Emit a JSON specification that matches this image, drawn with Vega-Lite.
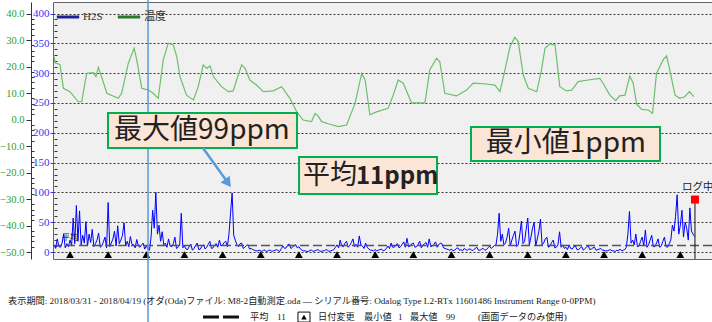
{
"$schema":"https://vega.github.io/schema/vega-lite/v6.json",
"autosize":{"type":"none"},
"width":659,"height":257,
"padding":{"left":53,"top":2,"right":0,"bottom":63},
"background":"white",
"config":{"view":{"fill":"#f0f0f0","stroke":"#666","strokeWidth":1},"font":"Liberation Serif"},
"datasets":{
"temp":[
{"t":"2018-03-31T14:00","c":23.7},{"t":"2018-03-31T14:40","c":21.3},{"t":"2018-03-31T17:40","c":20.8},{"t":"2018-03-31T19:50","c":11.8},{"t":"2018-04-01T00:00","c":10.5},{"t":"2018-04-01T05:10","c":6.7},{"t":"2018-04-01T07:20","c":6.7},{"t":"2018-04-01T10:30","c":17.4},{"t":"2018-04-01T14:40","c":17.7},{"t":"2018-04-01T16:20","c":16.2},{"t":"2018-04-01T17:50","c":19.7},{"t":"2018-04-01T19:50","c":16.2},{"t":"2018-04-01T23:10","c":9.9},{"t":"2018-04-02T06:20","c":8.0},{"t":"2018-04-02T08:30","c":9.9},{"t":"2018-04-02T12:40","c":21.2},{"t":"2018-04-02T16:20","c":26.9},{"t":"2018-04-02T18:00","c":22.5},{"t":"2018-04-02T21:10","c":11.8},{"t":"2018-04-03T01:20","c":11.1},{"t":"2018-04-03T04:20","c":9.9},{"t":"2018-04-03T07:30","c":8.0},{"t":"2018-04-03T10:40","c":22.5},{"t":"2018-04-03T13:50","c":28.8},{"t":"2018-04-03T17:00","c":28.1},{"t":"2018-04-03T19:10","c":23.7},{"t":"2018-04-03T21:10","c":16.2},{"t":"2018-04-04T01:20","c":9.2},{"t":"2018-04-04T05:40","c":7.4},{"t":"2018-04-04T08:40","c":12.4},{"t":"2018-04-04T11:50","c":20.6},{"t":"2018-04-04T14:00","c":19.3},{"t":"2018-04-04T16:10","c":20.2},{"t":"2018-04-04T18:10","c":16.2},{"t":"2018-04-04T23:20","c":12.4},{"t":"2018-04-05T03:40","c":10.5},{"t":"2018-04-05T06:40","c":10.8},{"t":"2018-04-05T08:50","c":14.9},{"t":"2018-04-05T12:00","c":20.6},{"t":"2018-04-05T14:10","c":19.3},{"t":"2018-04-05T17:10","c":14.9},{"t":"2018-04-05T21:20","c":13.0},{"t":"2018-04-06T01:40","c":10.5},{"t":"2018-04-06T07:50","c":10.8},{"t":"2018-04-06T13:10","c":12.4},{"t":"2018-04-06T18:20","c":8.0},{"t":"2018-04-06T22:40","c":2.9},{"t":"2018-04-07T02:40","c":-0.2},{"t":"2018-04-07T08:00","c":-0.8},{"t":"2018-04-07T10:10","c":2.3},{"t":"2018-04-07T12:10","c":1.3},{"t":"2018-04-07T14:20","c":-0.8},{"t":"2018-04-07T19:30","c":-1.8},{"t":"2018-04-08T00:50","c":-2.7},{"t":"2018-04-08T06:00","c":-2.1},{"t":"2018-04-08T11:20","c":6.1},{"t":"2018-04-08T15:30","c":17.4},{"t":"2018-04-08T17:40","c":14.9},{"t":"2018-04-08T20:40","c":1.8},{"t":"2018-04-09T00:50","c":2.9},{"t":"2018-04-09T08:10","c":4.2},{"t":"2018-04-09T11:20","c":9.2},{"t":"2018-04-09T14:30","c":14.9},{"t":"2018-04-09T17:40","c":13.7},{"t":"2018-04-09T22:50","c":6.3},{"t":"2018-04-10T07:20","c":6.3},{"t":"2018-04-10T10:20","c":18.7},{"t":"2018-04-10T14:40","c":23.1},{"t":"2018-04-10T16:40","c":21.8},{"t":"2018-04-10T19:50","c":9.9},{"t":"2018-04-11T03:10","c":8.9},{"t":"2018-04-11T09:30","c":11.1},{"t":"2018-04-11T13:40","c":13.7},{"t":"2018-04-11T22:10","c":13.4},{"t":"2018-04-12T03:20","c":13.0},{"t":"2018-04-12T06:30","c":10.5},{"t":"2018-04-12T09:40","c":18.7},{"t":"2018-04-12T12:50","c":27.5},{"t":"2018-04-12T15:50","c":31.0},{"t":"2018-04-12T18:00","c":29.4},{"t":"2018-04-12T21:10","c":16.8},{"t":"2018-04-13T00:20","c":11.8},{"t":"2018-04-13T05:40","c":10.5},{"t":"2018-04-13T08:40","c":18.7},{"t":"2018-04-13T10:50","c":26.9},{"t":"2018-04-13T13:50","c":28.5},{"t":"2018-04-13T17:10","c":28.1},{"t":"2018-04-13T20:10","c":12.4},{"t":"2018-04-14T00:20","c":10.8},{"t":"2018-04-14T03:40","c":11.1},{"t":"2018-04-14T07:40","c":14.3},{"t":"2018-04-14T14:00","c":14.9},{"t":"2018-04-14T21:20","c":15.5},{"t":"2018-04-14T23:20","c":13.7},{"t":"2018-04-15T03:40","c":9.2},{"t":"2018-04-15T07:20","c":7.1},{"t":"2018-04-15T09:50","c":8.9},{"t":"2018-04-15T13:10","c":9.2},{"t":"2018-04-15T16:10","c":16.4},{"t":"2018-04-15T18:20","c":13.7},{"t":"2018-04-15T20:30","c":5.8},{"t":"2018-04-15T23:40","c":3.8},{"t":"2018-04-16T03:50","c":3.6},{"t":"2018-04-16T06:30","c":2.3},{"t":"2018-04-16T09:00","c":17.4},{"t":"2018-04-16T13:10","c":22.5},{"t":"2018-04-16T15:20","c":24.0},{"t":"2018-04-16T17:20","c":18.7},{"t":"2018-04-16T20:40","c":9.2},{"t":"2018-04-16T23:40","c":8.0},{"t":"2018-04-17T02:50","c":8.6},{"t":"2018-04-17T05:40","c":10.5},{"t":"2018-04-17T08:30","c":8.6}
],
"h2s":[
{"t":"2018-03-31T14:00","v":12},{"t":"2018-03-31T15:00","v":6},{"t":"2018-03-31T16:00","v":22},{"t":"2018-03-31T17:00","v":9},{"t":"2018-03-31T18:00","v":8},{"t":"2018-03-31T19:00","v":15},{"t":"2018-03-31T20:00","v":30},{"t":"2018-03-31T21:00","v":7},{"t":"2018-03-31T22:00","v":14},{"t":"2018-03-31T23:00","v":9},
{"t":"2018-04-01T00:00","v":20},{"t":"2018-04-01T01:00","v":11},{"t":"2018-04-01T02:00","v":57},{"t":"2018-04-01T03:00","v":14},{"t":"2018-04-01T04:00","v":78},{"t":"2018-04-01T05:00","v":18},{"t":"2018-04-01T06:00","v":69},{"t":"2018-04-01T07:00","v":12},{"t":"2018-04-01T08:00","v":28},{"t":"2018-04-01T09:00","v":15},{"t":"2018-04-01T10:00","v":51},{"t":"2018-04-01T11:00","v":10},{"t":"2018-04-01T12:00","v":30},{"t":"2018-04-01T13:00","v":16},{"t":"2018-04-01T14:00","v":38},{"t":"2018-04-01T15:00","v":9},{"t":"2018-04-01T16:00","v":14},{"t":"2018-04-01T17:00","v":20},{"t":"2018-04-01T18:00","v":32},{"t":"2018-04-01T19:00","v":8},{"t":"2018-04-01T20:00","v":10},{"t":"2018-04-01T21:00","v":17},{"t":"2018-04-01T22:00","v":25},{"t":"2018-04-01T23:00","v":7},
{"t":"2018-04-02T00:00","v":83},{"t":"2018-04-02T01:00","v":9},{"t":"2018-04-02T02:00","v":15},{"t":"2018-04-02T03:00","v":22},{"t":"2018-04-02T04:00","v":35},{"t":"2018-04-02T05:00","v":10},{"t":"2018-04-02T06:00","v":44},{"t":"2018-04-02T07:00","v":14},{"t":"2018-04-02T08:00","v":20},{"t":"2018-04-02T09:00","v":28},{"t":"2018-04-02T10:00","v":49},{"t":"2018-04-02T11:00","v":11},{"t":"2018-04-02T12:00","v":18},{"t":"2018-04-02T13:00","v":9},{"t":"2018-04-02T14:00","v":26},{"t":"2018-04-02T15:00","v":13},{"t":"2018-04-02T16:00","v":12},{"t":"2018-04-02T17:00","v":7},{"t":"2018-04-02T18:00","v":21},{"t":"2018-04-02T19:00","v":10},{"t":"2018-04-02T20:00","v":8},{"t":"2018-04-02T21:00","v":12},{"t":"2018-04-02T22:00","v":15},{"t":"2018-04-02T23:00","v":5},
{"t":"2018-04-03T00:00","v":10},{"t":"2018-04-03T01:00","v":6},{"t":"2018-04-03T02:00","v":3},{"t":"2018-04-03T03:00","v":25},{"t":"2018-04-03T04:00","v":70},{"t":"2018-04-03T05:00","v":40},{"t":"2018-04-03T06:00","v":100},{"t":"2018-04-03T07:00","v":30},{"t":"2018-04-03T08:00","v":45},{"t":"2018-04-03T09:00","v":18},{"t":"2018-04-03T10:00","v":34},{"t":"2018-04-03T11:00","v":12},{"t":"2018-04-03T12:00","v":15},{"t":"2018-04-03T13:00","v":8},{"t":"2018-04-03T14:00","v":22},{"t":"2018-04-03T15:00","v":10},{"t":"2018-04-03T16:00","v":9},{"t":"2018-04-03T17:00","v":14},{"t":"2018-04-03T18:00","v":25},{"t":"2018-04-03T19:00","v":6},{"t":"2018-04-03T20:00","v":8},{"t":"2018-04-03T21:00","v":11},{"t":"2018-04-03T22:00","v":65},{"t":"2018-04-03T23:00","v":7},
{"t":"2018-04-04T00:00","v":10},{"t":"2018-04-04T01:00","v":5},{"t":"2018-04-04T02:00","v":4},{"t":"2018-04-04T03:00","v":9},{"t":"2018-04-04T04:00","v":13},{"t":"2018-04-04T05:00","v":3},{"t":"2018-04-04T06:00","v":6},{"t":"2018-04-04T07:00","v":11},{"t":"2018-04-04T08:00","v":15},{"t":"2018-04-04T09:00","v":4},{"t":"2018-04-04T10:00","v":5},{"t":"2018-04-04T11:00","v":10},{"t":"2018-04-04T12:00","v":12},{"t":"2018-04-04T13:00","v":5},{"t":"2018-04-04T14:00","v":8},{"t":"2018-04-04T15:00","v":13},{"t":"2018-04-04T16:00","v":18},{"t":"2018-04-04T17:00","v":6},{"t":"2018-04-04T18:00","v":7},{"t":"2018-04-04T19:00","v":12},{"t":"2018-04-04T20:00","v":14},{"t":"2018-04-04T21:00","v":8},{"t":"2018-04-04T22:00","v":20},{"t":"2018-04-04T23:00","v":10},
{"t":"2018-04-05T00:00","v":12},{"t":"2018-04-05T01:00","v":16},{"t":"2018-04-05T02:00","v":18},{"t":"2018-04-05T03:00","v":9},{"t":"2018-04-05T04:00","v":30},{"t":"2018-04-05T05:00","v":65},{"t":"2018-04-05T06:00","v":99},{"t":"2018-04-05T07:00","v":28},{"t":"2018-04-05T08:00","v":20},{"t":"2018-04-05T09:00","v":12},{"t":"2018-04-05T10:00","v":9},{"t":"2018-04-05T11:00","v":14},{"t":"2018-04-05T12:00","v":15},{"t":"2018-04-05T13:00","v":6},{"t":"2018-04-05T14:00","v":8},{"t":"2018-04-05T15:00","v":11},{"t":"2018-04-05T16:00","v":12},{"t":"2018-04-05T17:00","v":5},{"t":"2018-04-05T18:00","v":6},{"t":"2018-04-05T19:00","v":4},{"t":"2018-04-05T20:00","v":3},{"t":"2018-04-05T21:00","v":2},{"t":"2018-04-05T22:00","v":2},{"t":"2018-04-05T23:00","v":3},
{"t":"2018-04-06T00:00","v":2},{"t":"2018-04-06T01:00","v":1},{"t":"2018-04-06T02:00","v":4},{"t":"2018-04-06T03:00","v":2},{"t":"2018-04-06T04:00","v":1},{"t":"2018-04-06T05:00","v":3},{"t":"2018-04-06T06:00","v":3},{"t":"2018-04-06T07:00","v":1},{"t":"2018-04-06T08:00","v":2},{"t":"2018-04-06T09:00","v":3},{"t":"2018-04-06T10:00","v":4},{"t":"2018-04-06T11:00","v":2},{"t":"2018-04-06T12:00","v":1},{"t":"2018-04-06T13:00","v":6},{"t":"2018-04-06T14:00","v":10},{"t":"2018-04-06T15:00","v":6},{"t":"2018-04-06T16:00","v":7},{"t":"2018-04-06T17:00","v":12},{"t":"2018-04-06T18:00","v":13},{"t":"2018-04-06T19:00","v":6},{"t":"2018-04-06T20:00","v":8},{"t":"2018-04-06T21:00","v":11},{"t":"2018-04-06T22:00","v":12},{"t":"2018-04-06T23:00","v":7},
{"t":"2018-04-07T00:00","v":9},{"t":"2018-04-07T01:00","v":5},{"t":"2018-04-07T02:00","v":3},{"t":"2018-04-07T03:00","v":2},{"t":"2018-04-07T04:00","v":2},{"t":"2018-04-07T05:00","v":1},{"t":"2018-04-07T06:00","v":1},{"t":"2018-04-07T07:00","v":3},{"t":"2018-04-07T08:00","v":3},{"t":"2018-04-07T09:00","v":1},{"t":"2018-04-07T10:00","v":2},{"t":"2018-04-07T11:00","v":3},{"t":"2018-04-07T12:00","v":4},{"t":"2018-04-07T13:00","v":2},{"t":"2018-04-07T14:00","v":1},{"t":"2018-04-07T15:00","v":2},{"t":"2018-04-07T16:00","v":2},{"t":"2018-04-07T17:00","v":4},{"t":"2018-04-07T18:00","v":3},{"t":"2018-04-07T19:00","v":1},{"t":"2018-04-07T20:00","v":2},{"t":"2018-04-07T21:00","v":3},{"t":"2018-04-07T22:00","v":4},{"t":"2018-04-07T23:00","v":8},
{"t":"2018-04-08T00:00","v":12},{"t":"2018-04-08T01:00","v":7},{"t":"2018-04-08T02:00","v":20},{"t":"2018-04-08T03:00","v":10},{"t":"2018-04-08T04:00","v":9},{"t":"2018-04-08T05:00","v":15},{"t":"2018-04-08T06:00","v":18},{"t":"2018-04-08T07:00","v":8},{"t":"2018-04-08T08:00","v":11},{"t":"2018-04-08T09:00","v":16},{"t":"2018-04-08T10:00","v":22},{"t":"2018-04-08T11:00","v":9},{"t":"2018-04-08T12:00","v":13},{"t":"2018-04-08T13:00","v":8},{"t":"2018-04-08T14:00","v":27},{"t":"2018-04-08T15:00","v":12},{"t":"2018-04-08T16:00","v":10},{"t":"2018-04-08T17:00","v":6},{"t":"2018-04-08T18:00","v":15},{"t":"2018-04-08T19:00","v":8},{"t":"2018-04-08T20:00","v":5},{"t":"2018-04-08T21:00","v":3},{"t":"2018-04-08T22:00","v":3},{"t":"2018-04-08T23:00","v":2},
{"t":"2018-04-09T00:00","v":4},{"t":"2018-04-09T01:00","v":2},{"t":"2018-04-09T02:00","v":3},{"t":"2018-04-09T03:00","v":4},{"t":"2018-04-09T04:00","v":5},{"t":"2018-04-09T05:00","v":2},{"t":"2018-04-09T06:00","v":3},{"t":"2018-04-09T07:00","v":6},{"t":"2018-04-09T08:00","v":10},{"t":"2018-04-09T09:00","v":6},{"t":"2018-04-09T10:00","v":15},{"t":"2018-04-09T11:00","v":8},{"t":"2018-04-09T12:00","v":8},{"t":"2018-04-09T13:00","v":12},{"t":"2018-04-09T14:00","v":14},{"t":"2018-04-09T15:00","v":7},{"t":"2018-04-09T16:00","v":9},{"t":"2018-04-09T17:00","v":13},{"t":"2018-04-09T18:00","v":17},{"t":"2018-04-09T19:00","v":8},{"t":"2018-04-09T20:00","v":23},{"t":"2018-04-09T21:00","v":9},{"t":"2018-04-09T22:00","v":10},{"t":"2018-04-09T23:00","v":14},
{"t":"2018-04-10T00:00","v":15},{"t":"2018-04-10T01:00","v":8},{"t":"2018-04-10T02:00","v":9},{"t":"2018-04-10T03:00","v":13},{"t":"2018-04-10T04:00","v":18},{"t":"2018-04-10T05:00","v":7},{"t":"2018-04-10T06:00","v":11},{"t":"2018-04-10T07:00","v":14},{"t":"2018-04-10T08:00","v":16},{"t":"2018-04-10T09:00","v":8},{"t":"2018-04-10T10:00","v":22},{"t":"2018-04-10T11:00","v":9},{"t":"2018-04-10T12:00","v":10},{"t":"2018-04-10T13:00","v":13},{"t":"2018-04-10T14:00","v":17},{"t":"2018-04-10T15:00","v":8},{"t":"2018-04-10T16:00","v":12},{"t":"2018-04-10T17:00","v":15},{"t":"2018-04-10T18:00","v":14},{"t":"2018-04-10T19:00","v":7},{"t":"2018-04-10T20:00","v":6},{"t":"2018-04-10T21:00","v":5},{"t":"2018-04-10T22:00","v":4},{"t":"2018-04-10T23:00","v":3},
{"t":"2018-04-11T00:00","v":5},{"t":"2018-04-11T01:00","v":2},{"t":"2018-04-11T02:00","v":3},{"t":"2018-04-11T03:00","v":6},{"t":"2018-04-11T04:00","v":7},{"t":"2018-04-11T05:00","v":3},{"t":"2018-04-11T06:00","v":4},{"t":"2018-04-11T07:00","v":2},{"t":"2018-04-11T08:00","v":6},{"t":"2018-04-11T09:00","v":4},{"t":"2018-04-11T10:00","v":3},{"t":"2018-04-11T11:00","v":5},{"t":"2018-04-11T12:00","v":5},{"t":"2018-04-11T13:00","v":2},{"t":"2018-04-11T14:00","v":4},{"t":"2018-04-11T15:00","v":6},{"t":"2018-04-11T16:00","v":8},{"t":"2018-04-11T17:00","v":3},{"t":"2018-04-11T18:00","v":3},{"t":"2018-04-11T19:00","v":5},{"t":"2018-04-11T20:00","v":6},{"t":"2018-04-11T21:00","v":3},{"t":"2018-04-11T22:00","v":4},{"t":"2018-04-11T23:00","v":7},
{"t":"2018-04-12T00:00","v":10},{"t":"2018-04-12T01:00","v":6},{"t":"2018-04-12T02:00","v":8},{"t":"2018-04-12T03:00","v":11},{"t":"2018-04-12T04:00","v":12},{"t":"2018-04-12T05:00","v":30},{"t":"2018-04-12T06:00","v":65},{"t":"2018-04-12T07:00","v":18},{"t":"2018-04-12T08:00","v":30},{"t":"2018-04-12T09:00","v":12},{"t":"2018-04-12T10:00","v":15},{"t":"2018-04-12T11:00","v":25},{"t":"2018-04-12T12:00","v":40},{"t":"2018-04-12T13:00","v":10},{"t":"2018-04-12T14:00","v":20},{"t":"2018-04-12T15:00","v":28},{"t":"2018-04-12T16:00","v":35},{"t":"2018-04-12T17:00","v":9},{"t":"2018-04-12T18:00","v":12},{"t":"2018-04-12T19:00","v":30},{"t":"2018-04-12T20:00","v":52},{"t":"2018-04-12T21:00","v":14},{"t":"2018-04-12T22:00","v":18},{"t":"2018-04-12T23:00","v":38},
{"t":"2018-04-13T00:00","v":57},{"t":"2018-04-13T01:00","v":12},{"t":"2018-04-13T02:00","v":25},{"t":"2018-04-13T03:00","v":40},{"t":"2018-04-13T04:00","v":50},{"t":"2018-04-13T05:00","v":10},{"t":"2018-04-13T06:00","v":22},{"t":"2018-04-13T07:00","v":35},{"t":"2018-04-13T08:00","v":55},{"t":"2018-04-13T09:00","v":12},{"t":"2018-04-13T10:00","v":15},{"t":"2018-04-13T11:00","v":22},{"t":"2018-04-13T12:00","v":25},{"t":"2018-04-13T13:00","v":8},{"t":"2018-04-13T14:00","v":10},{"t":"2018-04-13T15:00","v":16},{"t":"2018-04-13T16:00","v":20},{"t":"2018-04-13T17:00","v":7},{"t":"2018-04-13T18:00","v":8},{"t":"2018-04-13T19:00","v":12},{"t":"2018-04-13T20:00","v":34},{"t":"2018-04-13T21:00","v":8},{"t":"2018-04-13T22:00","v":12},{"t":"2018-04-13T23:00","v":6},
{"t":"2018-04-14T00:00","v":8},{"t":"2018-04-14T01:00","v":4},{"t":"2018-04-14T02:00","v":12},{"t":"2018-04-14T03:00","v":6},{"t":"2018-04-14T04:00","v":5},{"t":"2018-04-14T05:00","v":9},{"t":"2018-04-14T06:00","v":10},{"t":"2018-04-14T07:00","v":4},{"t":"2018-04-14T08:00","v":4},{"t":"2018-04-14T09:00","v":7},{"t":"2018-04-14T10:00","v":9},{"t":"2018-04-14T11:00","v":3},{"t":"2018-04-14T12:00","v":6},{"t":"2018-04-14T13:00","v":8},{"t":"2018-04-14T14:00","v":11},{"t":"2018-04-14T15:00","v":4},{"t":"2018-04-14T16:00","v":5},{"t":"2018-04-14T17:00","v":7},{"t":"2018-04-14T18:00","v":8},{"t":"2018-04-14T19:00","v":3},{"t":"2018-04-14T20:00","v":4},{"t":"2018-04-14T21:00","v":5},{"t":"2018-04-14T22:00","v":6},{"t":"2018-04-14T23:00","v":3},
{"t":"2018-04-15T00:00","v":3},{"t":"2018-04-15T01:00","v":2},{"t":"2018-04-15T02:00","v":2},{"t":"2018-04-15T03:00","v":3},{"t":"2018-04-15T04:00","v":4},{"t":"2018-04-15T05:00","v":2},{"t":"2018-04-15T06:00","v":2},{"t":"2018-04-15T07:00","v":1},{"t":"2018-04-15T08:00","v":3},{"t":"2018-04-15T09:00","v":2},{"t":"2018-04-15T10:00","v":5},{"t":"2018-04-15T11:00","v":2},{"t":"2018-04-15T12:00","v":3},{"t":"2018-04-15T13:00","v":4},{"t":"2018-04-15T14:00","v":8},{"t":"2018-04-15T15:00","v":30},{"t":"2018-04-15T16:00","v":68},{"t":"2018-04-15T17:00","v":15},{"t":"2018-04-15T18:00","v":20},{"t":"2018-04-15T19:00","v":12},{"t":"2018-04-15T20:00","v":30},{"t":"2018-04-15T21:00","v":9},{"t":"2018-04-15T22:00","v":10},{"t":"2018-04-15T23:00","v":18},
{"t":"2018-04-16T00:00","v":25},{"t":"2018-04-16T01:00","v":10},{"t":"2018-04-16T02:00","v":37},{"t":"2018-04-16T03:00","v":8},{"t":"2018-04-16T04:00","v":12},{"t":"2018-04-16T05:00","v":20},{"t":"2018-04-16T06:00","v":28},{"t":"2018-04-16T07:00","v":9},{"t":"2018-04-16T08:00","v":9},{"t":"2018-04-16T09:00","v":15},{"t":"2018-04-16T10:00","v":22},{"t":"2018-04-16T11:00","v":8},{"t":"2018-04-16T12:00","v":10},{"t":"2018-04-16T13:00","v":18},{"t":"2018-04-16T14:00","v":25},{"t":"2018-04-16T15:00","v":9},{"t":"2018-04-16T16:00","v":8},{"t":"2018-04-16T17:00","v":14},{"t":"2018-04-16T18:00","v":20},{"t":"2018-04-16T19:00","v":45},{"t":"2018-04-16T20:00","v":35},{"t":"2018-04-16T21:00","v":60},{"t":"2018-04-16T22:00","v":96},{"t":"2018-04-16T23:00","v":30},
{"t":"2018-04-17T00:00","v":45},{"t":"2018-04-17T01:00","v":70},{"t":"2018-04-17T02:00","v":25},{"t":"2018-04-17T03:00","v":50},{"t":"2018-04-17T04:00","v":40},{"t":"2018-04-17T05:00","v":20},{"t":"2018-04-17T06:00","v":74},{"t":"2018-04-17T07:00","v":35},{"t":"2018-04-17T08:00","v":30},{"t":"2018-04-17T09:00","v":26}
],
"days":[{"t":"2018-04-01T00:00"},{"t":"2018-04-02T00:00"},{"t":"2018-04-03T00:00"},{"t":"2018-04-04T00:00"},{"t":"2018-04-05T00:00"},{"t":"2018-04-06T00:00"},{"t":"2018-04-07T00:00"},{"t":"2018-04-08T00:00"},{"t":"2018-04-09T00:00"},{"t":"2018-04-10T00:00"},{"t":"2018-04-11T00:00"},{"t":"2018-04-12T00:00"},{"t":"2018-04-13T00:00"},{"t":"2018-04-14T00:00"},{"t":"2018-04-15T00:00"},{"t":"2018-04-16T00:00"},{"t":"2018-04-17T00:00"}]
},
"layer":[
{"data":{"name":"temp"},
 "mark":{"type":"line","stroke":"#6cbf6c","strokeWidth":1.2,"clip":true},
 "encoding":{
  "x":{"field":"t","type":"temporal","scale":{"domain":[{"year":2018,"month":3,"date":31,"hours":13,"minutes":18},{"year":2018,"month":4,"date":17,"hours":19,"minutes":55}]},
   "axis":{"values":[{"year":2018,"month":4,"date":2},{"year":2018,"month":4,"date":4},{"year":2018,"month":4,"date":6},{"year":2018,"month":4,"date":8},{"year":2018,"month":4,"date":10},{"year":2018,"month":4,"date":12},{"year":2018,"month":4,"date":14},{"year":2018,"month":4,"date":16},{"year":2018,"month":4,"date":18}],
    "format":"%Y/%m/%d","labelFlush":false,"labelOverlap":false,"labelFont":"Liberation Serif","labelFontSize":12,"labelColor":"#222","tickSize":6,"tickColor":"#555","domainColor":"#555","domainWidth":1.5,"grid":false,"title":null,"labelPadding":1}},
  "y":{"field":"c","type":"quantitative","scale":{"domain":[-52.63,44.34],"nice":false,"zero":false},
   "axis":{"orient":"left","offset":22,"values":[-50,-40,-30,-20,-10,0,10,20,30,40],"format":".1f","labelOverlap":false,"labelColor":"#2e9e2e","labelFont":"Liberation Serif","labelFontSize":10.5,"tickSize":5,"tickColor":"#333","domainColor":"#333","labelPadding":2,"grid":false,"title":null}},
  "color":{"datum":"温度","type":"nominal","scale":{"domain":["H2S","温度"],"range":["#20209a","#2a7a2a"]},
   "legend":{"title":null,"orient":"top-left","direction":"horizontal","symbolType":"stroke","symbolStrokeWidth":3,"symbolSize":500,"labelFont":"Liberation Serif, Noto Sans CJK JP","labelFontSize":11,"labelColor":"#333","offset":1,"padding":1,"columnPadding":8,"labelOffset":2}}
 }},
{"data":{"name":"temp"},
 "mark":{"type":"point","opacity":0},
 "encoding":{
  "x":{"field":"t","type":"temporal","axis":null},
  "y":{"field":"c","type":"quantitative","scale":{"domain":[-52.63,44.34],"nice":false,"zero":false},
   "axis":{"orient":"left","offset":19,"values":[-48,-46,-44,-42,-38,-36,-34,-32,-28,-26,-24,-22,-18,-16,-14,-12,-8,-6,-4,-2,2,4,6,8,12,14,16,18,22,24,26,28,32,34,36,38],"labels":false,"domain":false,"tickSize":3,"tickColor":"#333","grid":false,"title":null}}
 }},
{"data":{"name":"h2s"},
 "mark":{"type":"point","opacity":0},
 "encoding":{
  "x":{"field":"t","type":"temporal","axis":null},
  "y":{"field":"v","type":"quantitative","scale":{"domain":[-11.7,419.3],"nice":false,"zero":false},
   "axis":{"orient":"left","offset":0,"values":[0,50,100,150,200,250,300,350,400],"labelOverlap":false,"labelColor":"#3333ff","labelFont":"Liberation Serif","labelFontSize":11,"tickSize":3,"tickColor":"#3333ff","domain":false,"grid":true,"gridDash":[2,2],"gridColor":"#333","gridWidth":1,"labelPadding":1,"title":null}}
 }},
{"data":{"name":"h2s"},
 "mark":{"type":"point","opacity":0},
 "encoding":{
  "x":{"field":"t","type":"temporal","axis":null},
  "y":{"field":"v","type":"quantitative","scale":{"domain":[-11.7,419.3],"nice":false,"zero":false},
   "axis":{"orient":"left","offset":-4,"values":[10,20,30,40,60,70,80,90,110,120,130,140,160,170,180,190,210,220,230,240,260,270,280,290,310,320,330,340,360,370,380,390],"labels":false,"domain":false,"tickSize":3,"tickColor":"#333","grid":false,"title":null}}
 }},
{"layer":[
 {"data":{"name":"h2s"},
  "mark":{"type":"line","stroke":"#0000ff","strokeWidth":1,"clip":true},
  "encoding":{
   "x":{"field":"t","type":"temporal","axis":null},
   "y":{"field":"v","type":"quantitative","scale":{"domain":[-11.7,419.3],"nice":false,"zero":false},"axis":null},
   "color":{"datum":"H2S","type":"nominal","scale":{"domain":["H2S","温度"],"range":["#20209a","#2a7a2a"]}}
  }},
 {"data":{"values":[{}]},
  "mark":{"type":"rule","stroke":"#555","strokeWidth":1.5,"strokeDash":[9,4]},
  "encoding":{"y":{"datum":11,"type":"quantitative","axis":null}}},
 {"data":{"values":[{}]},
  "mark":{"type":"text","text":"平均","align":"left","baseline":"middle","fontSize":8,"font":"Noto Sans CJK JP","fill":"#111"},
  "encoding":{"x":{"datum":{"year":2018,"month":3,"date":31,"hours":19,"minutes":0},"type":"temporal","axis":null},"y":{"datum":23.5,"type":"quantitative","axis":null}}},
 {"data":{"name":"days"},
  "mark":{"type":"point","shape":"triangle-up","filled":true,"fill":"#000","size":60,"opacity":1},
  "encoding":{"x":{"field":"t","type":"temporal","axis":null},"y":{"datum":-4.2,"type":"quantitative","axis":null}}},
 {"data":{"values":[{}]},
  "mark":{"type":"rule","stroke":"#5b9bd5","strokeWidth":1.5,"clip":false},
  "encoding":{"x":{"datum":{"year":2018,"month":4,"date":3,"hours":1,"minutes":6},"type":"temporal","axis":null},"y":{"datum":425,"type":"quantitative","axis":null},"y2":{"datum":-120}}},
 {"data":{"values":[{}]},
  "mark":{"type":"rule","stroke":"#111","strokeWidth":1},
  "encoding":{"x":{"datum":{"year":2018,"month":4,"date":17,"hours":9,"minutes":12},"type":"temporal","axis":null},"y":{"datum":82,"type":"quantitative","axis":null},"y2":{"datum":-11.7}}},
 {"data":{"values":[{}]},
  "mark":{"type":"point","shape":"square","filled":true,"fill":"#ff0000","size":64,"opacity":1},
  "encoding":{"x":{"datum":{"year":2018,"month":4,"date":17,"hours":9,"minutes":12},"type":"temporal","axis":null},"y":{"datum":88,"type":"quantitative","axis":null}}},
 {"data":{"values":[{}]},
  "mark":{"type":"text","text":"ログ中止","align":"left","baseline":"middle","fontSize":10.5,"font":"Noto Sans CJK JP","fill":"#222"},
  "encoding":{"x":{"datum":{"year":2018,"month":4,"date":17,"hours":1,"minutes":0},"type":"temporal","axis":null},"y":{"datum":109,"type":"quantitative","axis":null}}},
 {"data":{"values":[{}]},
  "mark":{"type":"rect","fill":"#fbe5d6","stroke":"#00b050","strokeWidth":2},
  "encoding":{"x":{"datum":{"year":2018,"month":4,"date":1,"hours":23,"minutes":54},"type":"temporal","axis":null},"x2":{"datum":{"year":2018,"month":4,"date":6,"hours":22,"minutes":48}},"y":{"datum":233.1,"type":"quantitative","axis":null},"y2":{"datum":174.4}}},
 {"data":{"values":[{}]},
  "mark":{"type":"text","text":"最大値99ppm","align":"center","baseline":"middle","fontSize":28,"font":"Noto Sans CJK JP","fill":"#222"},
  "encoding":{"x":{"datum":{"year":2018,"month":4,"date":4,"hours":11,"minutes":0},"type":"temporal","axis":null},"y":{"datum":202.9,"type":"quantitative","axis":null}}},
 {"data":{"values":[{}]},
  "mark":{"type":"rect","fill":"#fbe5d6","stroke":"#00b050","strokeWidth":2},
  "encoding":{"x":{"datum":{"year":2018,"month":4,"date":7,"hours":0,"minutes":6},"type":"temporal","axis":null},"x2":{"datum":{"year":2018,"month":4,"date":10,"hours":14,"minutes":54}},"y":{"datum":159.3,"type":"quantitative","axis":null},"y2":{"datum":97.3}}},
 {"data":{"values":[{}]},
  "mark":{"type":"text","text":"平均","align":"left","baseline":"middle","fontSize":27,"font":"Noto Sans CJK JP","fill":"#222"},
  "encoding":{"x":{"datum":{"year":2018,"month":4,"date":7,"hours":2,"minutes":36},"type":"temporal","axis":null},"y":{"datum":127.5,"type":"quantitative","axis":null}}},
 {"data":{"values":[{}]},
  "mark":{"type":"text","text":"11ppm","align":"left","baseline":"middle","fontSize":24,"fontWeight":"bold","font":"Noto Sans CJK JP","fill":"#222"},
  "encoding":{"x":{"datum":{"year":2018,"month":4,"date":8,"hours":11,"minutes":54},"type":"temporal","axis":null},"y":{"datum":126.5,"type":"quantitative","axis":null}}},
 {"data":{"values":[{}]},
  "mark":{"type":"rect","fill":"#fbe5d6","stroke":"#00b050","strokeWidth":2},
  "encoding":{"x":{"datum":{"year":2018,"month":4,"date":11,"hours":12,"minutes":18},"type":"temporal","axis":null},"x2":{"datum":{"year":2018,"month":4,"date":16,"hours":11,"minutes":12}},"y":{"datum":209.6,"type":"quantitative","axis":null},"y2":{"datum":152.6}}},
 {"data":{"values":[{}]},
  "mark":{"type":"text","text":"最小値1ppm","align":"center","baseline":"middle","fontSize":28,"font":"Noto Sans CJK JP","fill":"#222"},
  "encoding":{"x":{"datum":{"year":2018,"month":4,"date":14,"hours":0,"minutes":0},"type":"temporal","axis":null},"y":{"datum":181.1,"type":"quantitative","axis":null}}},
 {"data":{"values":[{}]},
  "mark":{"type":"rule","stroke":"#5b9bd5","strokeWidth":2.5},
  "encoding":{"x":{"datum":{"year":2018,"month":4,"date":4,"hours":11,"minutes":40},"type":"temporal","axis":null},"x2":{"datum":{"year":2018,"month":4,"date":5,"hours":2,"minutes":6}},"y":{"datum":174.4,"type":"quantitative","axis":null},"y2":{"datum":120.7}}},
 {"data":{"values":[{}]},
  "mark":{"type":"point","shape":"triangle-up","filled":true,"fill":"#5b9bd5","size":130,"angle":144,"opacity":1},
  "encoding":{"x":{"datum":{"year":2018,"month":4,"date":5,"hours":3,"minutes":24},"type":"temporal","axis":null},"y":{"datum":115.7,"type":"quantitative","axis":null}}},
 {"data":{"values":[{}]},
  "mark":{"type":"text","text":"表示期間: 2018/03/31 - 2018/04/19 (オダ(Oda)ファイル: M8-2自動測定.oda — シリアル番号: Odalog Type L2-RTx 11601486 Instrument Range 0-0PPM)","align":"left","baseline":"middle","fontSize":9.2,"font":"Liberation Serif, Noto Sans CJK JP","fill":"#222"},
  "encoding":{"x":{"datum":{"year":2018,"month":3,"date":30,"hours":9,"minutes":0},"type":"temporal","axis":null},"y":{"datum":-82.2,"type":"quantitative","axis":null}}},
 {"data":{"values":[{}]},
  "mark":{"type":"rule","stroke":"#111","strokeWidth":3,"strokeDash":[16,4]},
  "encoding":{"x":{"datum":{"year":2018,"month":4,"date":4,"hours":11,"minutes":40},"type":"temporal","axis":null},"x2":{"datum":{"year":2018,"month":4,"date":5,"hours":11,"minutes":0}},"y":{"datum":-109,"type":"quantitative","axis":null}}},
 {"data":{"values":[{}]},
  "mark":{"type":"text","text":"平均","align":"left","baseline":"middle","fontSize":9.2,"font":"Liberation Serif, Noto Sans CJK JP","fill":"#222"},
  "encoding":{"x":{"datum":{"year":2018,"month":4,"date":5,"hours":17,"minutes":15},"type":"temporal","axis":null},"y":{"datum":-109,"type":"quantitative","axis":null}}},
 {"data":{"values":[{}]},
  "mark":{"type":"text","text":"11","align":"left","baseline":"middle","fontSize":9.2,"font":"Liberation Serif, Noto Sans CJK JP","fill":"#222"},
  "encoding":{"x":{"datum":{"year":2018,"month":4,"date":6,"hours":10,"minutes":14},"type":"temporal","axis":null},"y":{"datum":-109,"type":"quantitative","axis":null}}},
 {"data":{"values":[{}]},
  "mark":{"type":"rect","fill":"white","stroke":"#111","strokeWidth":1},
  "encoding":{"x":{"datum":{"year":2018,"month":4,"date":6,"hours":23,"minutes":25},"type":"temporal","axis":null},"x2":{"datum":{"year":2018,"month":4,"date":7,"hours":7,"minutes":0}},"y":{"datum":-100.7,"type":"quantitative","axis":null},"y2":{"datum":-117.4}}},
 {"data":{"values":[{}]},
  "mark":{"type":"point","shape":"triangle-up","filled":true,"fill":"#000","size":30,"opacity":1},
  "encoding":{"x":{"datum":{"year":2018,"month":4,"date":7,"hours":3,"minutes":12},"type":"temporal","axis":null},"y":{"datum":-109,"type":"quantitative","axis":null}}},
 {"data":{"values":[{}]},
  "mark":{"type":"text","text":"日付変更","align":"left","baseline":"middle","fontSize":9.2,"font":"Liberation Serif, Noto Sans CJK JP","fill":"#222"},
  "encoding":{"x":{"datum":{"year":2018,"month":4,"date":7,"hours":12,"minutes":0},"type":"temporal","axis":null},"y":{"datum":-109,"type":"quantitative","axis":null}}},
 {"data":{"values":[{}]},
  "mark":{"type":"text","text":"最小値","align":"left","baseline":"middle","fontSize":9.2,"font":"Liberation Serif, Noto Sans CJK JP","fill":"#222"},
  "encoding":{"x":{"datum":{"year":2018,"month":4,"date":8,"hours":17,"minutes":0},"type":"temporal","axis":null},"y":{"datum":-109,"type":"quantitative","axis":null}}},
 {"data":{"values":[{}]},
  "mark":{"type":"text","text":"1","align":"left","baseline":"middle","fontSize":9.2,"font":"Liberation Serif, Noto Sans CJK JP","fill":"#222"},
  "encoding":{"x":{"datum":{"year":2018,"month":4,"date":9,"hours":14,"minutes":18},"type":"temporal","axis":null},"y":{"datum":-109,"type":"quantitative","axis":null}}},
 {"data":{"values":[{}]},
  "mark":{"type":"text","text":"最大値","align":"left","baseline":"middle","fontSize":9.2,"font":"Liberation Serif, Noto Sans CJK JP","fill":"#222"},
  "encoding":{"x":{"datum":{"year":2018,"month":4,"date":9,"hours":21,"minutes":54},"type":"temporal","axis":null},"y":{"datum":-109,"type":"quantitative","axis":null}}},
 {"data":{"values":[{}]},
  "mark":{"type":"text","text":"99","align":"left","baseline":"middle","fontSize":9.2,"font":"Liberation Serif, Noto Sans CJK JP","fill":"#222"},
  "encoding":{"x":{"datum":{"year":2018,"month":4,"date":10,"hours":20,"minutes":30},"type":"temporal","axis":null},"y":{"datum":-109,"type":"quantitative","axis":null}}},
 {"data":{"values":[{}]},
  "mark":{"type":"text","text":"(画面データのみ使用)","align":"left","baseline":"middle","fontSize":9.2,"font":"Liberation Serif, Noto Sans CJK JP","fill":"#222"},
  "encoding":{"x":{"datum":{"year":2018,"month":4,"date":11,"hours":16,"minutes":42},"type":"temporal","axis":null},"y":{"datum":-109,"type":"quantitative","axis":null}}}
 ]}
],
"resolve":{"scale":{"y":"independent"},"axis":{"y":"independent"}}
}
